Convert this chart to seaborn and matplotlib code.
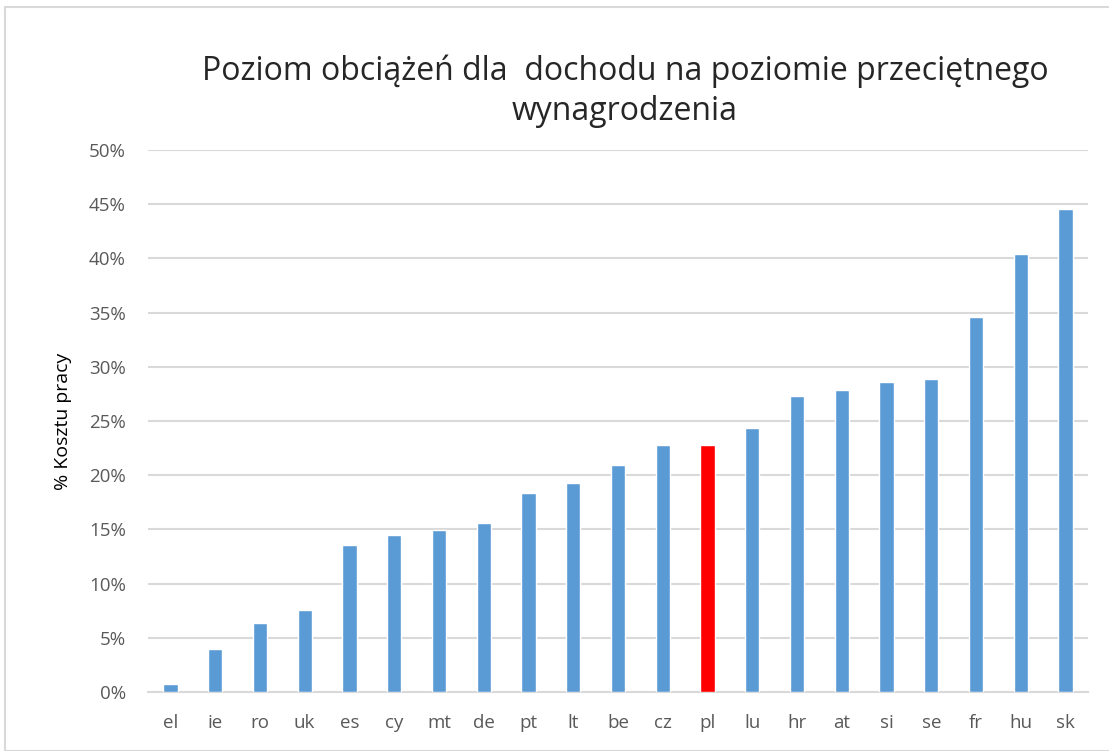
import matplotlib
matplotlib.use("Agg")
import matplotlib.pyplot as plt
from matplotlib.patches import Rectangle
from matplotlib.ticker import PercentFormatter
import pandas as pd
import seaborn as sns


COUNTRIES = ["el", "ie", "ro", "uk", "es", "cy", "mt", "de", "pt", "lt", "be",
             "cz", "pl", "lu", "hr", "at", "si", "se", "fr", "hu", "sk"]
VALUES = [0.7, 3.95, 6.4, 7.6, 13.6, 14.5, 14.9, 15.6, 18.4, 19.25, 20.9,
          22.8, 22.8, 24.4, 27.3, 27.9, 28.6, 28.9, 34.6, 40.4, 44.6]
HIGHLIGHT = "pl"

TITLE = "Poziom obciążeń dla  dochodu na poziomie przeciętnego\nwynagrodzenia"
Y_LABEL = "% Kosztu pracy"

BLUE = "#5b9bd5"
RED = "#ff0000"
GRID = "#d9d9d9"
TICK_COLOR = "#595959"


def main():
    sns.set_theme(style="white")
    plt.rcParams["font.family"] = ["Open Sans", "DejaVu Sans"]

    df = pd.DataFrame({"country": COUNTRIES, "value": VALUES})
    palette = {c: (RED if c == HIGHLIGHT else BLUE) for c in COUNTRIES}

    fig = plt.figure(figsize=(11.09, 7.51), dpi=100)
    ax = fig.add_axes([148 / 1109, 59 / 751, 940 / 1109, 542 / 751])

    sns.barplot(
        data=df, x="country", y="value", hue="country", palette=palette,
        width=0.32, legend=False, saturation=1, ax=ax, zorder=3,
    )

    ax.set_ylim(0, 50)
    ax.set_xlim(-0.5, len(COUNTRIES) - 0.5)
    ax.set_yticks(range(0, 51, 5))
    ax.yaxis.set_major_formatter(PercentFormatter(decimals=0))
    ax.grid(axis="y", color=GRID, linewidth=1.5, zorder=0)
    ax.grid(axis="x", visible=False)
    for side in ["top", "right", "left"]:
        ax.spines[side].set_visible(False)
    ax.spines["bottom"].set_color(GRID)
    ax.spines["bottom"].set_linewidth(1.5)
    ax.tick_params(axis="both", length=0, labelsize=13.5, colors=TICK_COLOR)
    ax.tick_params(axis="y", pad=16)
    ax.tick_params(axis="x", pad=16)
    ax.set_xlabel("")
    ax.set_ylabel(Y_LABEL, fontsize=14, color="black", labelpad=12)

    fig.text(625 / 1109, 1 - 91 / 751, TITLE, ha="center", va="center",
             fontsize=23, color="#262626", linespacing=1.3)

    fig.patches.append(Rectangle((5 / 1109, 0), 1200 / 1109, 1 - 7 / 751,
                                 transform=fig.transFigure, fill=False,
                                 edgecolor=GRID, linewidth=1.5))

    fig.savefig("out.png", dpi=100)
    plt.close(fig)


if __name__ == "__main__":
    main()
